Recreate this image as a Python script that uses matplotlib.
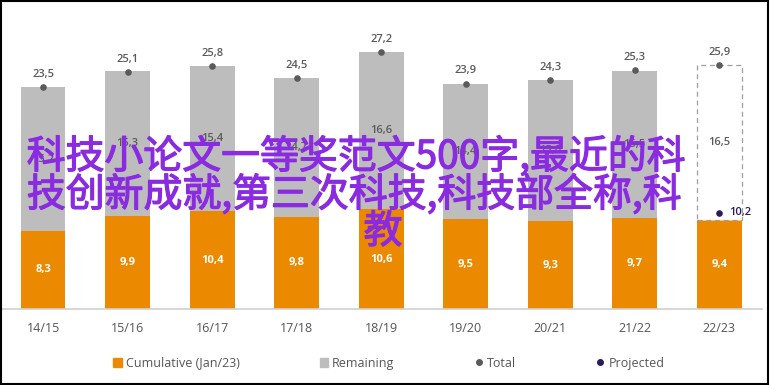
import matplotlib
matplotlib.use("Agg")
import matplotlib.pyplot as plt
import matplotlib.patheffects as pe
import numpy as np
from matplotlib.lines import Line2D
from matplotlib.patches import Patch, Rectangle

plt.rcParams['font.family'] = ['Open Sans', 'DejaVu Sans']

# data
seasons = ["14/15", "15/16", "16/17", "17/18", "18/19", "19/20", "20/21", "21/22", "22/23"]
cumulative = [8.3, 9.9, 10.4, 9.8, 10.6, 9.5, 9.3, 9.7, 9.4]
remaining = [15.2, 15.3, 15.4, 14.7, 16.6, 14.4, 15.0, 15.5, 16.5]
total = [23.5, 25.1, 25.8, 24.5, 27.2, 23.9, 24.3, 25.3, 25.9]
projected = 10.2
overlay_lines = ["科技小论文一等奖范文500字,最近的科", "技创新成就,第三次科技,科技部全称,科", "教"]

orange = "#EB8A00"
grey = "#BDBDBD"
dot = "#5A5A5A"
navy = "#2B1A5E"
purple = "#8A2BE2"

def fmt(v):
    return f"{v:.1f}".replace(".", ",")

W, H = 770, 385
fig = plt.figure(figsize=(W / 100, H / 100), dpi=100)
ax = fig.add_axes([0.0, 0.197, 0.99, 0.76])

x = np.arange(len(seasons))
w = 0.53
n = len(seasons)

ax.bar(x, cumulative, width=w, color=orange, zorder=2)
# remaining part: solid for past seasons, dashed outline for the last one
ax.bar(x[:-1], remaining[:-1], bottom=cumulative[:-1], width=w, color=grey, zorder=2)
ax.bar(x[-1:], remaining[-1:], bottom=cumulative[-1:], width=w, facecolor="white",
       edgecolor="#9E9E9E", linestyle=(0, (4, 3)), linewidth=0.9, zorder=2)

ax.scatter(x, total, s=14, color=dot, zorder=3)
ax.scatter([x[-1]], [projected], s=14, color=navy, zorder=3)

for i in range(n):
    ax.text(x[i], cumulative[i] / 2, fmt(cumulative[i]), ha="center", va="center",
            color="white", fontsize=8, fontweight="bold", zorder=4)
    ax.text(x[i], cumulative[i] + remaining[i] / 2, fmt(remaining[i]), ha="center",
            va="center", color="#5A5A5A", fontsize=8, fontweight="semibold", zorder=4)
    ax.text(x[i], total[i] + 0.75, fmt(total[i]), ha="center", va="bottom",
            color="#5A5A5A", fontsize=8, fontweight="semibold", zorder=4)
ax.text(x[-1] + 0.12, projected, fmt(projected), ha="left", va="center",
        color=navy, fontsize=8, fontweight="semibold", zorder=4)

ax.set_xlim(-0.51, n - 0.49)
ax.set_ylim(0, 31)
ax.set_yticks([])
ax.set_xticks(x)
ax.set_xticklabels(seasons, color="#555555", fontsize=9)
ax.tick_params(axis="x", length=0, pad=9)
for s in ["top", "left", "right"]:
    ax.spines[s].set_visible(False)
ax.spines["bottom"].set_color("#D0D0D0")
ax.spines["bottom"].set_linewidth(1.2)

handles = [
    Patch(color=orange, label="Cumulative (Jan/23)"),
    Patch(color=grey, label="Remaining"),
    Line2D([], [], marker="o", linestyle="", color=dot, markersize=4, label="Total"),
    Line2D([], [], marker="o", linestyle="", color=navy, markersize=4, label="Projected"),
]
fig.legend(handles=handles, loc="center", bbox_to_anchor=(0.505, 0.057), ncol=4,
           frameon=False, fontsize=9, handlelength=0.7, handleheight=0.7,
           handletextpad=0.3, columnspacing=6.4, labelcolor="#555555")

# overlay text (pixel positions from top-left)
for line, (px, py) in zip(overlay_lines, [(356, 157), (354, 195), (383, 232)]):
    fig.text(px / W, 1 - py / H, line, ha="center", va="center", color=purple,
             fontsize=28, family=["Noto Sans CJK SC", "DejaVu Sans"], zorder=10,
             path_effects=[pe.withStroke(linewidth=0.9, foreground=purple)])

fig.add_artist(Rectangle((0.001, 0.003), 0.997, 0.995, transform=fig.transFigure,
                         fill=False, edgecolor="black", linewidth=1.5))

fig.savefig("out.png", dpi=100)
